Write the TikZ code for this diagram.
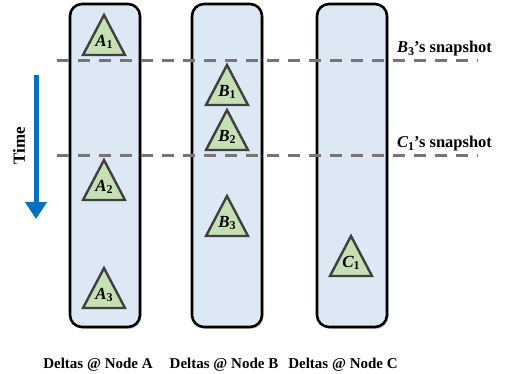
\documentclass[tikz,border=0pt]{standalone}
\usepackage{fontspec}
\setmainfont{Liberation Serif}
\usetikzlibrary{arrows.meta,shadows}
\definecolor{colfill}{RGB}{221,232,245}
\definecolor{trifill}{RGB}{197,224,180}
\definecolor{tridraw}{RGB}{64,64,64}
\definecolor{dashgray}{RGB}{118,118,118}
\definecolor{timeblue}{RGB}{0,112,192}
\newcommand\lab[2]{{\bfseries\itshape #1}\raisebox{-0.3ex}{\bfseries\fontsize{12}{12}\selectfont #2}}
\tikzset{
  column/.style={draw=black, line width=2.6pt, fill=colfill, rounded corners=12pt,
    drop shadow={shadow xshift=1.5pt, shadow yshift=-2pt, opacity=0.35}},
  snapline/.style={draw=dashgray, line width=3pt, dash pattern=on 12pt off 9pt},
  tri/.style={draw=tridraw, fill=trifill, line width=2.4pt, line join=miter},
  trilabel/.style={inner sep=0pt, font=\fontsize{17}{17}\selectfont},
  bottomlabel/.style={font=\fontsize{15}{16}\selectfont\bfseries, inner sep=0pt},
  snaplabel/.style={font=\fontsize{16.5}{17}\selectfont\bfseries, inner sep=0pt, anchor=west},
}
\newcommand\mytri[5]{% x, top y, name, letter, index
  \draw[tri] (#1,#2) -- (#1+21,#2+40) -- (#1-21,#2+40) -- cycle;
  \node[trilabel] (#3) at (#1,#2+27) {\lab{#4}{#5}};
}
\begin{document}
\begin{tikzpicture}[x=1pt,y=-1pt]
\useasboundingbox (0,0) rectangle (505,373);
% columns
\path[column] (70,4) rectangle (140,327);
\path[column] (192,4) rectangle (262,327);
\path[column] (317,4) rectangle (387,327);
% snapshot lines
\coordinate (l1s) at (57,60);
\coordinate (l1e) at (478,60);
\coordinate (l2s) at (57,155);
\coordinate (l2e) at (478,155);
\draw[snapline] (l1s) -- (l1e);
\draw[snapline] (l2s) -- (l2e);
\node[snaplabel] (snapB) at (397,49) {\lab{B}{3}’s snapshot};
\node[snaplabel] (snapC) at (397,144) {\lab{C}{1}’s snapshot};
% triangles
\mytri{104}{15}{a1}{A}{1}
\mytri{104}{160}{a2}{A}{2}
\mytri{104}{268}{a3}{A}{3}
\mytri{227}{65}{b1}{B}{1}
\mytri{227}{110}{b2}{B}{2}
\mytri{227}{196}{b3}{B}{3}
\mytri{351}{236}{c1}{C}{1}
% time arrow
\coordinate (ts) at (36,75);
\coordinate (te) at (36,219);
\draw[timeblue, line width=5pt, -{Triangle[width=21pt,length=17pt]}] (ts) -- (te);
\node[rotate=90, font=\fontsize{17}{17}\selectfont\bfseries, inner sep=0pt] (time) at (19,146) {Time};
% bottom labels
\node[bottomlabel] (la) at (98,365) {Deltas @ Node A};
\node[bottomlabel] (lb) at (224,365) {Deltas @ Node B};
\node[bottomlabel] (lc) at (343,365) {Deltas @ Node C};
\end{tikzpicture}
\end{document}
